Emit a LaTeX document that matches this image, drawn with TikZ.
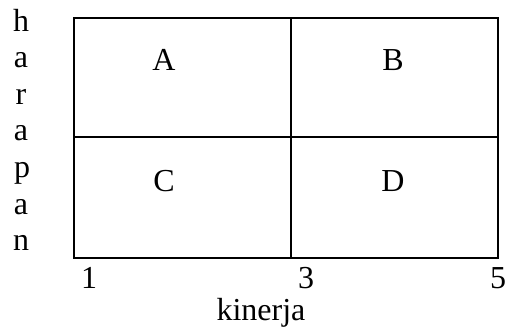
\documentclass[tikz,border=0pt]{standalone}
\usepackage{fontspec}
\setmainfont{Liberation Serif}
\begin{document}
\begin{tikzpicture}[x=1pt,y=-1pt,
  lbl/.style={font=\fontsize{32}{36.5}\selectfont, inner sep=0pt, anchor=base},
  grid line/.style={line width=1.8pt, line cap=rect}]
\useasboundingbox (0,0) rectangle (506,333);
% grid
\coordinate (tl) at (74,18);
\coordinate (br) at (498,258);
\coordinate (mt) at (291,18);
\coordinate (mb) at (291,258);
\coordinate (ml) at (74,137);
\coordinate (mr) at (498,137);
\draw[grid line] (tl) rectangle (br);
\draw[grid line] (mt) -- (mb);
\draw[grid line] (ml) -- (mr);
% quadrant labels
\node[lbl] (A) at (164,70) {A};
\node[lbl] (B) at (393,70) {B};
\node[lbl] (C) at (164,191) {C};
\node[lbl] (D) at (393,191) {D};
% axis ticks
\node[lbl] (t1) at (89,288) {1};
\node[lbl] (t3) at (306,288) {3};
\node[lbl] (t5) at (498,288) {5};
% axis titles
\node[lbl] (kinerja) at (261,320) {kinerja};
\node[lbl] (harapan) at (21,31) {\vtop{\baselineskip=36.6pt
  \hbox to 0pt{\hss h\hss}\hbox to 0pt{\hss a\hss}\hbox to 0pt{\hss r\hss}\hbox to 0pt{\hss a\hss}\hbox to 0pt{\hss\kern2pt p\hss}\hbox to 0pt{\hss a\hss}\hbox to 0pt{\hss n\hss}}};
\end{tikzpicture}
\end{document}
